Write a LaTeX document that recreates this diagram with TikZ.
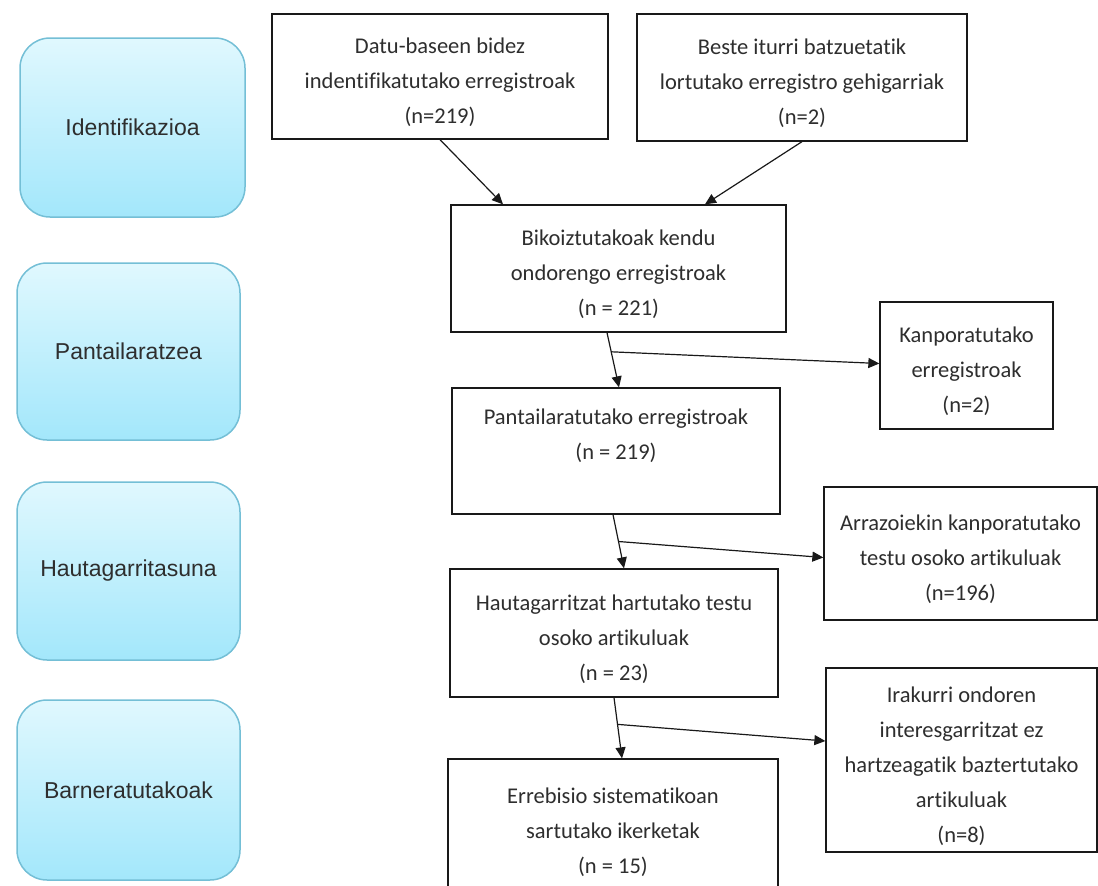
\documentclass[tikz,border=0pt]{standalone}
\usepackage{fontspec}
\setmainfont{Carlito}[Ligatures={NoCommon}]
\newfontfamily\stagefont{Liberation Sans}
\usetikzlibrary{arrows.meta,calc}
\definecolor{stagetop}{HTML}{E0F8FE}
\definecolor{stagebot}{HTML}{A3E7FB}
\definecolor{stageline}{HTML}{74BFD6}
\definecolor{txt}{HTML}{2E2E2E}
\newcommand\topgap{\rule{0pt}{28pt}}
\begin{document}
\begin{tikzpicture}[x=1pt,y=-1pt,
  stage/.style={draw=stageline, line width=1.5pt, rounded corners=30pt,
    top color=stagetop, bottom color=stagebot, text=txt,
    font=\stagefont\fontsize{23}{27}\selectfont, inner sep=0pt},
  box/.style={draw=black!90, line width=1.3pt, fill=white, align=center,
    text=txt, font=\fontsize{22.5}{35}\selectfont, inner sep=0pt},
  arr/.style={line width=1.2pt, draw=black!90, -{Triangle[length=11pt,width=10pt]}}]
\useasboundingbox (0,0) rectangle (1098,886);
\clip (0,0) rectangle (1098,886);

% stage boxes
\node[stage, minimum width=225pt, minimum height=179pt] (S1) at (132.5,127.5) {Identifikazioa};
\node[stage, minimum width=223pt, minimum height=177pt] (S2) at (128.5,351.5) {Pantailaratzea};
\node[stage, minimum width=223pt, minimum height=178pt] (S3) at (128.5,571) {Hautagarritasuna};
\node[stage, minimum width=223pt, minimum height=180pt] (S4) at (128.5,790) {Barneratutakoak};

% flow boxes
\node[box, minimum width=336pt, minimum height=125pt] (A) at (440,76.5)
  {\topgap Datu-baseen bidez\\indentifikatutako erregistroak\\(n=219)};
\node[box, minimum width=330pt, minimum height=127pt] (B) at (802,77.5)
  {\topgap Beste iturri batzuetatik\\lortutako erregistro gehigarriak\\(n=2)};
\node[box, minimum width=335pt, minimum height=127pt] (C) at (618.5,268.5)
  {\topgap Bikoiztutakoak kendu\\ondorengo erregistroak\\(n = 221)};
\node[box, minimum width=173pt, minimum height=127pt] (D) at (966.5,365.5)
  {\topgap Kanporatutako\\erregistroak\\(n=2)};
\node[box, minimum width=328pt, minimum height=126pt] (E) at (616,451)
  {\topgap Pantailaratutako erregistroak\\(n = 219)\\\strut};
\node[box, minimum width=273pt, minimum height=133pt] (F) at (960.5,553.5)
  {\topgap Arrazoiekin kanporatutako\\testu osoko artikuluak\\(n=196)};
\node[box, minimum width=328pt, minimum height=128pt] (G) at (614,633)
  {\topgap Hautagarritzat hartutako testu\\osoko artikuluak\\(n = 23)};
\node[box, minimum width=271pt, minimum height=184pt] (H) at (961.5,760)
  {\topgap Irakurri ondoren\\interesgarritzat ez\\hartzeagatik baztertutako\\artikuluak\\(n=8)};
\node[box, minimum width=330pt, minimum height=134pt] (I) at (613,826)
  {\topgap Errebisio sistematikoan\\sartutako ikerketak\\(n = 15)};

% connectors
\draw[arr] (A.south) -- ($(C.north)+(-115.5,0)$);
\draw[arr] (B.south) -- ($(C.north)+(86.5,0)$);

\coordinate (ce1) at ($(C.south)+(-11.5,0)$);
\coordinate (ce2) at ($(E.north)+(3,0)$);
\draw[arr] (ce1) -- (ce2);
\coordinate (c1) at ($(ce1)!0.35!(ce2)$);
\draw[arr] (c1) -- ($(D.west)+(0,-2)$);

\coordinate (ee1) at ($(E.south)+(-3,0)$);
\coordinate (ee2) at ($(G.north)+(10,0)$);
\draw[arr] (ee1) -- (ee2);
\coordinate (e1) at ($(ee1)!0.5!(ee2)$);
\draw[arr] (e1) -- ($(F.west)+(0,4)$);

\coordinate (ge1) at (G.south);
\coordinate (ge2) at ($(I.north)+(9,0)$);
\draw[arr] (ge1) -- (ge2);
\coordinate (g1) at ($(ge1)!0.44!(ge2)$);
\draw[arr] (g1) -- ($(H.west)+(0,-19)$);
\end{tikzpicture}
\end{document}
